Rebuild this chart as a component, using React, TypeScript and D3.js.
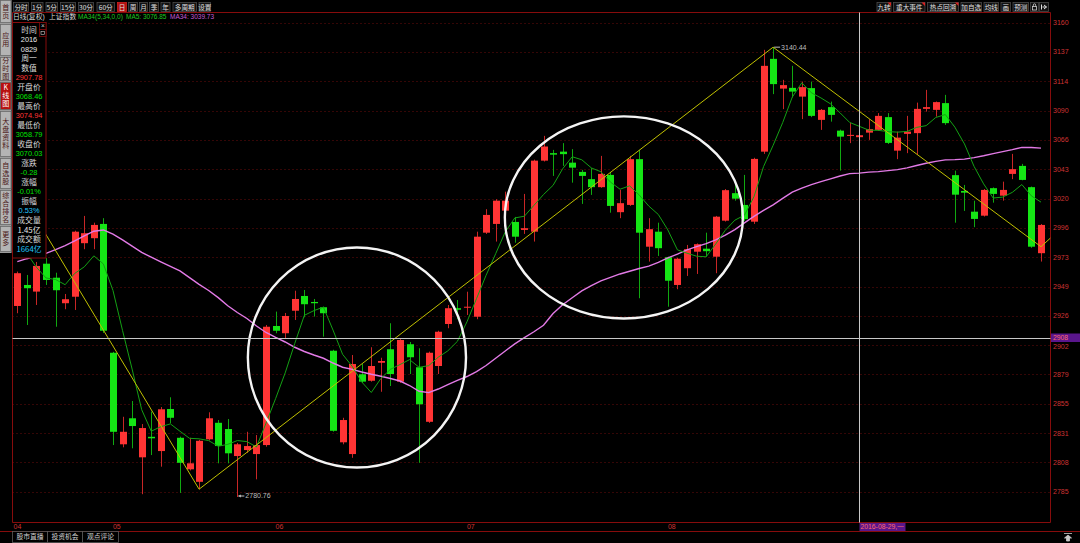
import React from 'react';
import * as d3 from 'd3';

// ---------------- DATA ----------------
const opens = [
  2933.5, 2950.3, 2945.0, 2967.3, 2956.1, 2935.7, 2940.9, 2983.7, 2987.7, 2999.1,
  2896.1, 2822.9, 2843.7, 2812.5, 2828.9, 2817.5, 2851.1, 2828.1, 2802.9, 2792.9,
  2826.9, 2840.1, 2835.1, 2813.5, 2818.3, 2815.1, 2822.3, 2917.5, 2911.7, 2929.7,
  2941.5, 2936.7, 2932.5, 2897.7, 2824.5, 2815.1, 2878.9, 2873.7, 2888.1, 2898.9,
  2873.0, 2902.9, 2884.5, 2840.9, 2885.5, 2919.1, 2931.7, 2932.1, 2924.9, 2992.1,
  2999.1, 3009.7, 3000.7, 2994.3, 2992.9, 3049.7, 3055.7, 3056.9, 3048.1, 3040.7,
  3034.9, 3028.5, 3038.3, 3008.5, 3014.3, 3050.9, 2980.9, 2992.9, 2972.5, 2950.3,
  2963.7, 2976.9, 2979.3, 2972.9, 3001.7, 3023.7, 3014.3, 3000.9, 3056.9, 3131.1,
  3107.3, 3107.9, 3100.9, 3107.7, 3082.3, 3092.5, 3073.7, 3069.5, 3068.46, 3072.1,
  3074.3, 3084.5, 3057.7, 3071.1, 3071.7, 3091.1, 3090.3, 3095.7, 3038.1, 3025.5,
  3008.9, 3005.7, 3027.7, 3021.7, 3039.1, 3045.5, 3028.5, 2975.7,
];
const highs = [
  2961.0, 2958.3, 2968.7, 2971.9, 2960.1, 2943.1, 2993.7, 3005.5, 3000.1, 3003.7,
  2896.8, 2844.9, 2857.5, 2839.1, 2849.0, 2852.7, 2860.5, 2829.0, 2828.1, 2826.5,
  2848.5, 2842.3, 2843.1, 2824.0, 2832.9, 2830.3, 2918.3, 2929.0, 2927.9, 2945.7,
  2946.3, 2939.1, 2933.0, 2898.5, 2844.1, 2894.3, 2887.1, 2900.5, 2892.1, 2919.7,
  2907.0, 2904.7, 2899.7, 2897.0, 2913.7, 2934.3, 2938.3, 2944.9, 2992.9, 3010.9,
  3018.9, 3024.9, 3004.7, 3023.1, 3050.5, 3069.5, 3058.3, 3063.7, 3058.9, 3042.3,
  3043.7, 3053.5, 3040.7, 3026.3, 3053.5, 3058.3, 3003.7, 3000.1, 2973.0, 2972.0,
  2982.3, 2983.5, 2992.1, 3005.5, 3027.0, 3031.7, 3038.3, 3052.0, 3138.3, 3140.44,
  3114.3, 3125.5, 3112.9, 3112.9, 3091.0, 3096.9, 3074.5, 3080.1, 3074.94, 3082.9,
  3087.7, 3087.7, 3072.9, 3085.5, 3096.1, 3106.3, 3097.0, 3102.3, 3041.7, 3030.3,
  3017.7, 3027.0, 3028.3, 3032.9, 3055.1, 3047.1, 3029.0, 2999.0,
];
const lows = [
  2927.7, 2918.3, 2934.3, 2950.3, 2916.9, 2930.9, 2930.3, 2978.9, 2978.9, 2912.0,
  2822.3, 2820.5, 2819.7, 2783.0, 2814.3, 2805.0, 2839.7, 2784.0, 2802.0, 2786.9,
  2826.0, 2807.7, 2807.7, 2780.76, 2816.1, 2794.9, 2821.0, 2911.7, 2907.7, 2922.3,
  2924.5, 2925.0, 2909.0, 2833.0, 2822.9, 2812.1, 2872.0, 2873.0, 2864.9, 2869.5,
  2872.0, 2879.1, 2808.1, 2840.0, 2879.1, 2915.7, 2922.9, 2926.3, 2922.9, 2991.1,
  2985.0, 3009.0, 2984.1, 2991.1, 2985.0, 3049.0, 3037.5, 3045.5, 3032.1, 3015.1,
  3022.3, 3028.0, 3008.1, 3003.7, 3013.5, 2939.7, 2969.0, 2973.5, 2932.9, 2946.9,
  2957.5, 2959.1, 2972.9, 2959.7, 3001.0, 3017.7, 3001.5, 2999.1, 3055.1, 3102.9,
  3090.9, 3100.1, 3082.9, 3084.5, 3074.3, 3080.9, 3041.7, 3063.7, 3058.79, 3066.3,
  3073.5, 3063.0, 3050.9, 3055.7, 3054.3, 3088.9, 3084.9, 3078.3, 3000.1, 3009.5,
  2996.5, 3005.0, 3016.1, 3017.7, 3034.9, 3034.0, 2980.0, 2969.0,
];
const closes = [
  2959.7, 2947.7, 2965.5, 2954.3, 2946.1, 2938.9, 2992.9, 2991.7, 2998.3, 2913.7,
  2832.9, 2832.9, 2837.5, 2835.9, 2827.7, 2850.9, 2844.1, 2808.1, 2807.7, 2825.7,
  2843.7, 2821.5, 2815.7, 2822.9, 2821.5, 2822.3, 2916.9, 2913.7, 2925.5, 2939.1,
  2934.9, 2935.7, 2927.7, 2833.7, 2842.3, 2887.1, 2873.0, 2885.5, 2889.5, 2879.1,
  2906.3, 2892.5, 2854.9, 2896.1, 2912.9, 2931.7, 2930.5, 2932.9, 2988.9, 3006.3,
  3017.7, 3017.7, 2988.9, 2995.7, 3049.7, 3061.0, 3054.5, 3054.9, 3044.1, 3037.5,
  3028.5, 3039.1, 3013.5, 3015.7, 3050.9, 2992.1, 2994.9, 2979.7, 2953.7, 2971.3,
  2978.9, 2982.9, 2977.3, 3004.9, 3026.1, 3019.3, 3002.9, 3051.1, 3125.5, 3110.9,
  3110.1, 3104.9, 3108.5, 3085.5, 3090.3, 3086.3, 3068.9, 3070.31, 3070.03, 3074.9,
  3085.5, 3063.9, 3068.1, 3072.9, 3091.1, 3092.5, 3096.5, 3079.7, 3022.5, 3024.1,
  3003.1, 3026.3, 3023.1, 3026.3, 3042.9, 3034.3, 2980.9, 2998.3,
];
// MA34 (it depends on bars before the visible window)
const ma34 = [
  2969.0, 2971.3, 2973.3, 2975.5, 2978.5, 2981.8, 2985.5, 2989.5, 2993.3, 2994.3,
  2990.9, 2986.3, 2981.3, 2976.3, 2972.5, 2968.7, 2965.1, 2961.5, 2956.2, 2950.8,
  2945.9, 2940.2, 2933.7, 2928.3, 2923.5, 2917.5, 2912.3, 2908.3, 2904.7, 2900.5,
  2897.1, 2894.3, 2891.7, 2887.9, 2884.5, 2882.8, 2880.7, 2878.9, 2877.3, 2875.5,
  2873.5, 2869.9, 2865.3, 2864.2, 2867.1, 2870.6, 2874.0, 2877.1, 2881.0, 2885.9,
  2891.7, 2897.5, 2903.2, 2908.2, 2912.9, 2918.1, 2927.5, 2934.5, 2940.1, 2945.5,
  2949.7, 2953.5, 2956.3, 2959.1, 2961.3, 2963.5, 2965.4, 2968.3, 2971.9, 2974.9,
  2978.3, 2980.9, 2983.4, 2986.4, 2990.1, 2994.6, 2999.9, 3005.2, 3009.9, 3014.3,
  3019.5, 3024.5, 3027.7, 3030.5, 3032.9, 3035.1, 3037.4, 3039.3, 3039.73, 3040.5,
  3040.9, 3041.7, 3042.5, 3043.9, 3045.8, 3047.6, 3049.1, 3050.3, 3050.5, 3050.9,
  3052.1, 3053.6, 3055.3, 3056.9, 3058.5, 3060.3, 3060.2, 3059.7,
];
// MA5 for the first bars (needs bars before the visible window)
const ma5Lead = [2982.0, 2975.5, 2964.5, 2955.9];

const monthLabels = ['04', '05', '06', '07', '08'];
const monthStartIndex = [0, 10, 27, 47, 68];

const yDomain = [2785, 3160];
const yTickLabels = ['2785', '2808', '2831', '2855', '2879', '2902', '2926', '2949', '2973',
  '2996', '3020', '3043', '3066', '3090', '3114', '3137', '3160'];

const zigzagIndex = [0, 19, 79, 107, 108];
const zigzagValue = [3028.7, 2787.0, 3140.44, 2980.9, 2987.9];

const peakIndex = 79, peakValue = 3140.44;
const lowIndex = 23, lowValue = 2780.76;

const crossIndex = 88, crossValue = 2907.78;
const crossPriceLabel = '2908';
const crossDateLabel = '2016-08-29,一';

// ellipses drawn on the chart: centre index / value, radius in bars / points
const ellipseCenterIndex = [35.5, 63.4];
const ellipseCenterValue = [2892.3, 3004.3];
const ellipseRadiusBars = [11.4, 12.44];
const ellipseRadiusPoints = [88, 80.8];

const panelLabels = ['时间', '2016', '0829', '周一', '数值', '2907.78', '开盘价', '3068.46', '最高价', '3074.94',
  '最低价', '3058.79', '收盘价', '3070.03', '涨跌', '-0.28', '涨幅', '-0.01%', '振幅', '0.53%',
  '成交量', '1.45亿', '成交额', '1664亿'];
const panelKinds = ['l', 'w', 'w', 'l', 'l', 'r', 'l', 'g', 'l', 'r', 'l', 'g', 'l', 'g', 'l', 'g', 'l', 'g', 'l', 'c', 'l', 'w', 'l', 'c'];

const periodButtons = ['分时', '1分', '5分', '15分', '30分', '60分', '日', '周', '月', '季', '年', '多周期', '设置'];
const toolButtons = ['九转', '重大事件', '热点回溯', '加自选', '均线', '画', '预测'];
const sideTabs = ['首页', '应用', '分时图', 'K线图', '大盘资料', '自选股', '综合排名', '更多'];
const bottomTabs = ['股市直播', '投资机会', '观点评论'];

// ---------------- STYLE / LAYOUT ----------------
const RED = '#ff3434';
const GREEN = '#15e615';
const FRAME = '#860c0c';
const GRID = '#6a0c0c';
const AXIS_TXT = '#cc3333';
const PURPLE = '#5a168c';
const CJK = "'Noto Sans CJK SC', 'Noto Sans', sans-serif";
const NUM = "'Liberation Sans', Arial, sans-serif";

const PL = 12.5, PR = 1050.5, PT = 12.5, PB = 522.5;

const periodX = [[13, 29], [31, 43.5], [45.5, 58], [60, 76], [78, 94], [96.5, 115], [117, 127], [128, 138],
  [139, 148], [149, 159], [160.5, 170.5], [172.5, 197], [198.5, 211]];
const toolX = [[876.5, 891.5], [893, 925.5], [927, 959], [960.5, 982], [983.5, 999], [1000.5, 1011], [1012.5, 1029]];
const sideY = [[0, 23], [24, 56], [57, 81], [82, 110], [111, 157], [158, 189], [190, 225], [226, 252]];
const bottomX = [[12.5, 47.5], [47.5, 82.5], [82.5, 118.5]];

export default function App() {
  const n = closes.length;
  const x = d3.scaleLinear().domain([0, n - 1]).range([17.3, 1041]);
  const y = d3.scaleLinear().domain(yDomain).range([491.7, 22.7]);
  const step = x(1) - x(0);
  const ticks = yTickLabels.map((_, k) => yDomain[0] + (k * (yDomain[1] - yDomain[0])) / (yTickLabels.length - 1));

  const ma5 = closes.map((c, i) => (i < 4 ? ma5Lead[i] : (d3.mean(closes.slice(i - 4, i + 1)) as number)));
  const maLine = d3.line<number>().x((_, i) => x(i)).y((d) => y(d));
  const zz = d3.line<number>().x((_, k) => x(zigzagIndex[k])).y((d) => y(d));

  const colorOf = (kind: string) =>
    kind === 'r' ? RED : kind === 'g' ? '#00e000' : kind === 'c' ? '#22c8ff' : kind === 'w' ? '#e8e8e8' : '#d8d8d8';

  const crossX = Math.round(x(crossIndex)) + 0.5;
  const crossY = Math.round(y(crossValue)) + 0.5;

  return (
    <svg width={1080} height={543} style={{ position: 'absolute', left: 0, top: 0, display: 'block', background: '#000' }}>
      <defs>
        <clipPath id="plot">
          <rect x={PL} y={PT} width={PR - PL} height={PB - PT} />
        </clipPath>
      </defs>
      <rect x={0} y={0} width={1080} height={543} fill="#000" />

      {/* grid */}
      {ticks.map((t, k) => (
        <line key={'g' + k} x1={PL} x2={PR} y1={Math.round(y(t)) + 0.5} y2={Math.round(y(t)) + 0.5}
          stroke={GRID} strokeDasharray="1,3" />
      ))}

      {/* frame */}
      <line x1={PL} x2={PR} y1={PT} y2={PT} stroke={FRAME} />
      <line x1={PL} x2={PL} y1={PT} y2={PB} stroke={FRAME} />
      <line x1={PR} x2={PR} y1={PT} y2={PB} stroke={FRAME} />
      <line x1={PL} x2={PR} y1={PB} y2={PB} stroke={FRAME} />
      <line x1={0} x2={1080} y1={531.5} y2={531.5} stroke={FRAME} />

      {/* y axis labels */}
      {ticks.map((t, k) => (
        <text key={'yl' + k} x={1053} y={y(t) + (yTickLabels[k] === '2902' ? 1.5 : 0)} dy="0.35em" fill={AXIS_TXT} fontSize={7} fontFamily={NUM}>
          {yTickLabels[k]}
        </text>
      ))}

      {/* month labels */}
      {monthLabels.map((m, k) => (
        <text key={'m' + k} x={monthStartIndex[k] === 0 ? PL + 1 : x(monthStartIndex[k])} y={527} dy="0.35em"
          fill={AXIS_TXT} fontSize={7} fontFamily={NUM}>
          {m}
        </text>
      ))}

      <g clipPath="url(#plot)">
        {/* candles */}
        {closes.map((c, i) => {
          const o = opens[i];
          const up = c >= o;
          const cx = Math.round(x(i));
          const top = y(Math.max(o, c));
          const bot = y(Math.min(o, c));
          return (
            <g key={'c' + i}>
              <line x1={cx + 0.5} x2={cx + 0.5} y1={y(highs[i])} y2={y(lows[i])} stroke={up ? '#c82626' : '#10a810'} strokeWidth={1} />
              <rect x={cx - 3} y={top} width={7} height={Math.max(1, bot - top)} fill={up ? RED : GREEN} />
            </g>
          );
        })}

        {/* moving averages */}
        <path d={maLine(ma34) || ''} fill="none" stroke="#e27ae6" strokeWidth={1.4} />
        <path d={maLine(ma5) || ''} fill="none" stroke="#14a014" strokeWidth={1} />

        {/* zigzag */}
        <path d={zz(zigzagValue) || ''} fill="none" stroke="#c0c000" strokeWidth={1} />

        {/* annotations */}
        <line x1={x(peakIndex) + 1} x2={x(peakIndex) + 7} y1={y(peakValue)} y2={y(peakValue)} stroke="#bdbdbd" />
        <text x={x(peakIndex) + 8} y={y(peakValue)} dy="0.35em" fill="#bdbdbd" fontSize={7} fontFamily={NUM}>
          {peakValue.toFixed(2)}
        </text>
        <line x1={x(lowIndex) + 1} x2={x(lowIndex) + 7} y1={y(lowValue) - 1} y2={y(lowValue) - 1} stroke="#bdbdbd" />
        <path d={`M${x(lowIndex) + 1},${y(lowValue) - 1} l2.5,-1.5 v3 z`} fill="#bdbdbd" />
        <text x={x(lowIndex) + 8} y={y(lowValue) - 1} dy="0.35em" fill="#bdbdbd" fontSize={7} fontFamily={NUM}>
          {lowValue.toFixed(2)}
        </text>

        {/* ellipses */}
        {ellipseCenterIndex.map((ci, k) => (
          <ellipse key={'e' + k} cx={x(ci)} cy={y(ellipseCenterValue[k])} rx={ellipseRadiusBars[k] * step}
            ry={Math.abs(y(ellipseCenterValue[k] + ellipseRadiusPoints[k]) - y(ellipseCenterValue[k]))}
            fill="none" stroke="#f4f4f4" strokeWidth={2.4} />
        ))}
      </g>

      {/* crosshair */}
      <line x1={PL} x2={PR} y1={crossY} y2={crossY} stroke="#c8c8c8" />
      <line x1={crossX} x2={crossX} y1={PT} y2={PB} stroke="#c8c8c8" />
      <rect x={1051} y={crossY - 5} width={29} height={8.5} fill={PURPLE} />
      <text x={1053} y={crossY - 0.8} dy="0.35em" fill="#ff6a6a" fontSize={6.8} fontFamily={NUM}>{crossPriceLabel}</text>
      <rect x={crossX} y={523} width={46} height={8} fill={PURPLE} />
      <text x={crossX + 1} y={527} dy="0.35em" fill="#ff6a6a" fontSize={6.8} fontFamily={NUM}>{crossDateLabel}</text>

      {/* header line */}
      <text y={16.5} dy="0.35em" fontSize={6.8} fontFamily={CJK} fill="#d8d8d8">
        <tspan x={13}>日线</tspan>
        <tspan fontFamily={NUM}>(</tspan>
        <tspan>复权</tspan>
        <tspan fontFamily={NUM}>)</tspan>
        <tspan x={49}>上证指数</tspan>
      </text>
      <text y={16.5} dy="0.35em" fontSize={6.5} fontFamily={NUM}>
        <tspan x={78} fill="#1ec81e">MA34(5,34,0,0)</tspan>
        <tspan x={126} fill="#1ec81e">MA5: 3076.85</tspan>
        <tspan x={170} fill="#c85ad8">MA34: 3039.73</tspan>
      </text>

      {/* period toolbar */}
      {periodButtons.map((b, k) => {
        const [a, e] = periodX[k];
        const sel = b === '日';
        return (
          <g key={'pb' + k}>
            <rect x={a + 0.5} y={2.5} width={e - a - 1} height={9} fill={sel ? '#b01010' : '#121212'} stroke={sel ? '#d02020' : '#4a4a4a'} strokeWidth={0.8} />
            <text x={(a + e) / 2} y={7.2} dy="0.35em" textAnchor="middle" fill="#e0e0e0" fontSize={6.6} fontFamily={CJK}>{b}</text>
          </g>
        );
      })}

      {/* tool buttons right */}
      {toolButtons.map((b, k) => {
        const [a, e] = toolX[k];
        return (
          <g key={'tb' + k}>
            <rect x={a + 0.5} y={2.5} width={e - a - 1} height={9} fill="#121212" stroke="#4a4a4a" strokeWidth={0.8} />
            <text x={(a + e) / 2} y={7.2} dy="0.35em" textAnchor="middle" fill="#e0e0e0" fontSize={6.6} fontFamily={CJK}>{b}</text>
            {k < 3 && <path d={`M${e - 4},2.5 L${e - 0.5},2.5 L${e - 0.5},6 Z`} fill="#e02020" />}
          </g>
        );
      })}
      <rect x={1030.5} y={2.5} width={8} height={9} fill="#121212" stroke="#4a4a4a" strokeWidth={0.8} />
      <rect x={1032.5} y={6.5} width={4} height={3.5} fill="none" stroke="#d0d0d0" strokeWidth={0.8} />
      <path d="M1033.3,6.5 v-1.5 a1.2,1.2 0 0 1 2.4,0 v1.5" fill="none" stroke="#d0d0d0" strokeWidth={0.8} />
      <rect x={1039.5} y={2.5} width={9} height={9} fill="#121212" stroke="#4a4a4a" strokeWidth={0.8} />
      <path d="M1041.5,4.5 v5 M1042.5,7 h4 M1044,5 l2.5,2 l-2.5,2" fill="none" stroke="#e0e0e0" strokeWidth={1} />

      {/* side tabs */}
      <rect x={0} y={0} width={11.5} height={253} fill="#9c9c9c" />
      {sideTabs.map((t, k) => {
        const [a, e] = sideY[k];
        const sel = t === 'K线图';
        const chars = Array.from(t);
        const cy = (a + e) / 2;
        const lh = 8;
        return (
          <g key={'st' + k}>
            <rect x={0.5} y={a + 0.5} width={10.5} height={e - a - 1} fill={sel ? '#b81010' : '#b4b4b4'} stroke="#6a6a6a" strokeWidth={0.8} />
            {chars.map((ch, j) => (
              <text key={j} x={5.8} y={cy + (j - (chars.length - 1) / 2) * lh} dy="0.35em" textAnchor="middle"
                fill={sel ? '#ffffff' : '#4a1414'} fontSize={7} fontFamily={CJK}>{ch}</text>
            ))}
          </g>
        );
      })}

      {/* info panel */}
      <rect x={12.5} y={22.5} width={33.5} height={235.5} fill="#000" stroke={FRAME} />
      <rect x={39.5} y={22.5} width={6.5} height={7} fill="#000" stroke={FRAME} strokeWidth={0.8} />
      <text x={42.8} y={26} dy="0.35em" textAnchor="middle" fill="#c8c8c8" fontSize={6.5} fontFamily={NUM}>×</text>
      <rect x={39.5} y={29.5} width={6.5} height={7} fill="#000" stroke={FRAME} strokeWidth={0.8} />
      <rect x={41} y={31.5} width={3.5} height={3} fill="none" stroke="#c8c8c8" strokeWidth={0.6} />
      {panelLabels.map((t, k) => {
        const kind = panelKinds[k];
        const isNum = /^[-0-9.%]+$/.test(t);
        return (
          <text key={'pl' + k} x={29} y={30 + k * 9.52} dy="0.35em" textAnchor="middle" fill={colorOf(kind)}
            fontSize={isNum ? 7.4 : 7.8} fontFamily={isNum ? NUM : CJK}>{t}</text>
        );
      })}

      {/* bottom tabs */}
      {bottomTabs.map((t, k) => {
        const [a, e] = bottomX[k];
        return (
          <g key={'bt' + k}>
            <rect x={a} y={531.5} width={e - a} height={11} fill="#000" stroke="#5a5a5a" strokeWidth={0.8} />
            <text x={(a + e) / 2} y={537} dy="0.35em" textAnchor="middle" fill="#d0d0d0" fontSize={6.8} fontFamily={CJK}>{t}</text>
          </g>
        );
      })}
      <path d="M1064,533.5 h8 M1068,535 l-3.5,3 h2 v3 h3 v-3 h2 z" fill="#c8c8c8" stroke="#c8c8c8" strokeWidth={0.8} />
    </svg>
  );
}
